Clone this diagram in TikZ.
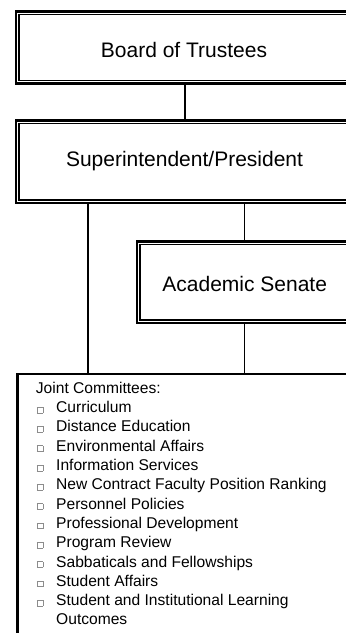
\documentclass[tikz,border=0pt]{standalone}
\usepackage{fontspec}
\setmainfont{Liberation Sans}
\tikzset{
  outerbox/.style={draw, line width=2.6pt, rectangle, inner sep=0pt},
  innerline/.style={draw, line width=1.1pt},
  titletext/.style={anchor=base, inner sep=0pt, font=\fontsize{21}{25}\selectfont},
  listtext/.style={anchor=base west, inner sep=0pt, font=\fontsize{15.6}{19.3}\selectfont},
  conn/.style={line width=1.8pt},
}
\newcommand\sqbox{{\color{black!45}\setlength\fboxsep{0pt}\setlength\fboxrule{0.6pt}\fbox{\rule{0pt}{5.2pt}\hspace{5.2pt}}}}
\begin{document}
\begin{tikzpicture}[x=1pt,y=-1pt]
\useasboundingbox (0,0) rectangle (346,633);
\clip (0,0) rectangle (346,633);
% boxes
\node[outerbox, minimum width=336pt, minimum height=72pt] (board) at (184,47.3) {};
\draw[innerline] ([shift={(4.3pt,-4.3pt)}]board.north west) rectangle ([shift={(-4.3pt,4.3pt)}]board.south east);
\node[titletext] (boardt) at (184,57.3) {Board of Trustees};

\node[outerbox, minimum width=336pt, minimum height=82.3pt] (sup) at (184,161.85) {};
\draw[innerline] ([shift={(4.3pt,-4.3pt)}]sup.north west) rectangle ([shift={(-4.3pt,4.3pt)}]sup.south east);
\node[titletext] (supt) at (184.5,166) {Superintendent/President};

\node[outerbox, minimum width=215pt, minimum height=81.7pt] (senate) at (244.5,282.15) {};
\draw[innerline] ([shift={(4.3pt,-4.3pt)}]senate.north west) rectangle ([shift={(-4.3pt,4.3pt)}]senate.south east);
\node[titletext] (senatet) at (244.7,291.3) {Academic Senate};

\node[outerbox, anchor=north west, minimum width=400pt, minimum height=400pt] (joint) at (16,372.7) {};

% connectors
\draw[conn] ([xshift=1pt]board.south) -- ([xshift=1pt]board.south |- sup.north);
\draw[conn] ([xshift=73pt]sup.south west) -- ([xshift=73pt]sup.south west |- joint.north);
\draw[conn] (senate.north |- sup.south) -- (senate.north);
\draw[conn] (senate.south) -- (senate.south |- joint.north);

% list
\node[listtext] (jc) at (35.7,393.3) {Joint Committees:};
\foreach \t [count=\i] in {Curriculum,Distance Education,Environmental Affairs,Information Services,New Contract Faculty Position Ranking,Personnel Policies,Professional Development,Program Review,Sabbaticals and Fellowships,Student Affairs,Student and Institutional Learning}
  \node[listtext] (item\i) at (35.7,{393.3+19.3*\i}) {\makebox[20.3pt][l]{\hspace{1pt}\sqbox}\t};
\node[listtext] (itemlast) at (56,{393.3+19.3*12}) {Outcomes};
\end{tikzpicture}
\end{document}
